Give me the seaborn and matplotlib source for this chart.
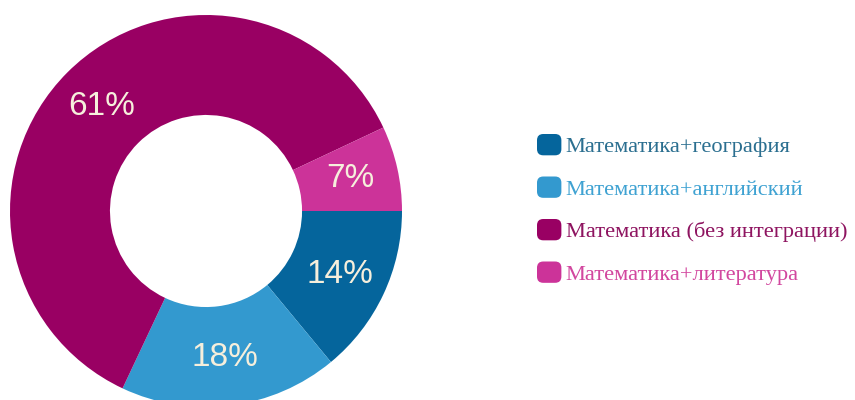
import matplotlib
matplotlib.use("Agg")
import matplotlib.pyplot as plt
from matplotlib.patches import FancyBboxPatch
from matplotlib.legend_handler import HandlerPatch
from matplotlib.patches import Patch
import seaborn as sns

# Share of lessons by type of integration
categories = [
    "Математика+география",
    "Математика+английский",
    "Математика (без интеграции)",
    "Математика+литература",
]
shares = [14, 18, 61, 7]
wedge_colors = ["#05659c", "#3399cf", "#990063", "#cc3399"]
legend_text_colors = ["#2b6f90", "#3fa2d2", "#8e1460", "#d2479f"]

sns.set_theme(style="white")
plt.rcParams["font.family"] = ["Liberation Sans", "DejaVu Sans"]

fig = plt.figure(figsize=(8.55, 4.0), dpi=100)
fig.patch.set_facecolor("white")

# Donut centred at (206, 211) px, outer radius 196 px
cx, cy, r = 206, 400 - 211, 196
ax = fig.add_axes([(cx - r) / 855, (cy - r) / 400, 2 * r / 855, 2 * r / 400])
wedges, _, autotexts = ax.pie(
    shares,
    colors=wedge_colors,
    startangle=0,
    counterclock=False,
    radius=1.0,
    wedgeprops=dict(width=0.51, edgecolor="none"),
    autopct=lambda p: f"{p:.0f}%",
    pctdistance=0.755,
    textprops=dict(color="#f6efdc", fontsize=24),
)
ax.set_xlim(-1, 1)
ax.set_ylim(-1, 1)
ax.set_aspect("equal")
ax.axis("off")


class RoundedSquare(HandlerPatch):
    def create_artists(self, legend, orig_handle, xdescent, ydescent,
                       width, height, fontsize, trans):
        p = FancyBboxPatch(
            (-xdescent, -ydescent), width, height,
            boxstyle="round,pad=0,rounding_size=4.5",
            facecolor=orig_handle.get_facecolor(), edgecolor="none",
            transform=trans,
        )
        return [p]


handles = [Patch(facecolor=c) for c in wedge_colors]
leg = fig.legend(
    handles, categories,
    loc="upper left",
    bbox_to_anchor=(537 / 855, 1 - 134 / 400),
    frameon=False,
    prop=dict(family="Liberation Serif", size=16.1),
    handlelength=1.09, handleheight=1.09,
    handletextpad=0.2, labelspacing=0.86,
    borderaxespad=0, borderpad=0,
    handler_map={Patch: RoundedSquare()},
)
for t, c in zip(leg.get_texts(), legend_text_colors):
    t.set_color(c)

fig.savefig("out.png", dpi=100, facecolor="white")
